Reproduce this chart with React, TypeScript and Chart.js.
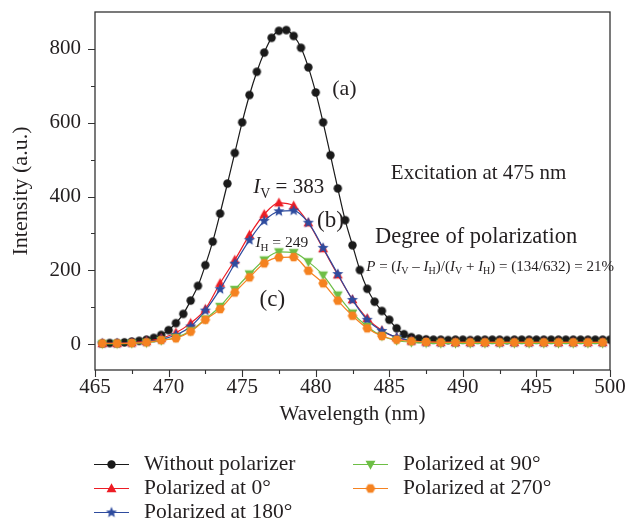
import React, { useEffect, useRef } from 'react';
import { Chart, registerables } from 'chart.js';
Chart.register(...registerables);

// ---------- data ----------
const wavelengthFine = [
  465.5, 466, 466.5, 467, 467.5, 468, 468.5, 469, 469.5, 470,
  470.5, 471, 471.5, 472, 472.5, 473, 473.5, 474, 474.5, 475,
  475.5, 476, 476.5, 477, 477.5, 478, 478.5, 479, 479.5, 480,
  480.5, 481, 481.5, 482, 482.5, 483, 483.5, 484, 484.5, 485,
  485.5, 486, 486.5, 487, 487.5, 488, 488.5, 489, 489.5, 490,
  490.5, 491, 491.5, 492, 492.5, 493, 493.5, 494, 494.5, 495,
  495.5, 496, 496.5, 497, 497.5, 498, 498.5, 499, 499.5, 500,
];
const withoutPolarizer = [
  2, 3, 3, 5, 7, 9, 12, 17, 25, 38,
  57, 82, 118, 158, 214, 278, 354, 435, 518, 601,
  675, 738, 790, 830, 849, 851, 835, 803, 750, 682,
  601, 512, 422, 336, 268, 201, 150, 115, 90, 66,
  43, 27, 19, 15, 13, 12, 12, 11, 12, 12,
  11, 12, 12, 12, 12, 11, 12, 12, 12, 12,
  12, 12, 12, 12, 12, 12, 12, 12, 12, 12,
];
const wavelengthCoarse = [
  465.5, 466.5, 467.5, 468.5, 469.5, 470.5, 471.5, 472.5, 473.5, 474.5,
  475.5, 476.5, 477.5, 478.5, 479.5, 480.5, 481.5, 482.5, 483.5, 484.5,
  485.5, 486.5, 487.5, 488.5, 489.5, 490.5, 491.5, 492.5, 493.5, 494.5,
  495.5, 496.5, 497.5, 498.5, 499.5,
];
const polarized0 = [
  2, 2, 4, 8, 16, 31, 57, 95, 165, 228,
  296, 352, 383, 375, 329, 259, 188, 121, 70, 37,
  18, 9, 6, 5, 5, 5, 5, 5, 5, 5,
  5, 5, 5, 5, 5,
];
const polarized180 = [
  2, 2, 3, 6, 13, 25, 48, 91, 149, 218,
  282, 334, 360, 362, 329, 261, 190, 120, 66, 36,
  19, 9, 5, 4, 4, 4, 4, 4, 4, 4,
  4, 4, 4, 4, 4,
];
const polarized90 = [
  1, 1, 2, 4, 10, 18, 36, 68, 102, 148,
  190, 228, 250, 248, 223, 187, 133, 84, 48, 22,
  10, 5, 3, 2, 2, 2, 2, 2, 2, 2,
  2, 2, 2, 2, 2,
];
const polarized270 = [
  2, 2, 3, 5, 11, 16, 34, 66, 95, 140,
  181, 219, 235, 236, 199, 165, 118, 77, 43, 22,
  12, 8, 6, 5, 5, 5, 5, 5, 5, 5,
  5, 5, 5, 5, 5,
];
const seriesLabels = [
  'Without polarizer',
  'Polarized at 0°',
  'Polarized at 180°',
  'Polarized at 90°',
  'Polarized at 270°',
];
const xTicks = [465, 470, 475, 480, 485, 490, 495, 500];
const xMinorTicks = [467.5, 472.5, 477.5, 482.5, 487.5, 492.5, 497.5];
const yTicks = [0, 200, 400, 600, 800];
const yMinorTicks = [100, 300, 500, 700];

// ---------- styling ----------
const FONT = '"Liberation Serif", "Times New Roman", serif';
const INK = '#231f20';
const COLORS = ['#1a1a1a', '#ed1c24', '#2e4b9e', '#6dbe45', '#f58220'];

type Shape = 'circle' | 'triUp' | 'star' | 'triDown' | 'hex';
function makeMarker(shape: Shape, color: string, r: number): HTMLCanvasElement {
  const size = Math.ceil(2 * r + 2);
  const c = document.createElement('canvas');
  c.width = size;
  c.height = size;
  const ctx = c.getContext('2d')!;
  const cx = size / 2;
  const cy = size / 2;
  ctx.fillStyle = color;
  ctx.beginPath();
  if (shape === 'circle') {
    ctx.arc(cx, cy, r, 0, Math.PI * 2);
  } else if (shape === 'triUp' || shape === 'triDown') {
    const s = shape === 'triUp' ? 1 : -1;
    ctx.moveTo(cx, cy - s * r);
    ctx.lineTo(cx + r * 0.95, cy + s * r * 0.7);
    ctx.lineTo(cx - r * 0.95, cy + s * r * 0.7);
    ctx.closePath();
  } else if (shape === 'star') {
    for (let i = 0; i < 10; i++) {
      const rr = i % 2 === 0 ? r : r * 0.45;
      const a = -Math.PI / 2 + (i * Math.PI) / 5;
      const px = cx + rr * Math.cos(a);
      const py = cy + rr * Math.sin(a);
      if (i === 0) ctx.moveTo(px, py);
      else ctx.lineTo(px, py);
    }
    ctx.closePath();
  } else {
    for (let i = 0; i < 6; i++) {
      const a = (i * Math.PI) / 3;
      const px = cx + r * Math.cos(a);
      const py = cy + r * Math.sin(a);
      if (i === 0) ctx.moveTo(px, py);
      else ctx.lineTo(px, py);
    }
    ctx.closePath();
  }
  ctx.fill();
  return c;
}

type Seg = { t: string; italic?: boolean; sub?: boolean };
function drawRich(
  ctx: CanvasRenderingContext2D,
  segs: Seg[],
  x: number,
  cy: number,
  size: number,
  align: 'left' | 'center'
) {
  const fontOf = (s: Seg) =>
    `${s.italic ? 'italic ' : ''}${s.sub ? Math.round(size * 0.68) : size}px ${FONT}`;
  let total = 0;
  const widths = segs.map((s) => {
    ctx.font = fontOf(s);
    const w = ctx.measureText(s.t).width;
    total += w;
    return w;
  });
  let cx = align === 'center' ? x - total / 2 : x;
  const base = cy + size * 0.33;
  ctx.textAlign = 'left';
  ctx.textBaseline = 'alphabetic';
  ctx.fillStyle = INK;
  segs.forEach((s, i) => {
    ctx.font = fontOf(s);
    ctx.fillText(s.t, cx, s.sub ? base + size * 0.22 : base);
    cx += widths[i];
  });
}

// annotation anchors in data coordinates
const annotations: { x: number; y: number; size: number; align: 'left' | 'center'; segs: Seg[] }[] = [
  { x: 481.95, y: 695, size: 22, align: 'center', segs: [{ t: '(a)' }] },
  { x: 491.07, y: 466, size: 21, align: 'center', segs: [{ t: 'Excitation at 475 nm' }] },
  {
    x: 475.75, y: 428, size: 21, align: 'left',
    segs: [{ t: 'I', italic: true }, { t: 'V', sub: true }, { t: ' = 383' }],
  },
  { x: 481.0, y: 337, size: 23, align: 'center', segs: [{ t: '(b)' }] },
  { x: 490.9, y: 293, size: 22.5, align: 'center', segs: [{ t: 'Degree of polarization' }] },
  {
    x: 491.85, y: 212, size: 15, align: 'center',
    segs: [
      { t: 'P', italic: true }, { t: ' = (' }, { t: 'I', italic: true }, { t: 'V', sub: true },
      { t: ' – ' }, { t: 'I', italic: true }, { t: 'H', sub: true }, { t: ')/(' },
      { t: 'I', italic: true }, { t: 'V', sub: true }, { t: ' + ' }, { t: 'I', italic: true },
      { t: 'H', sub: true }, { t: ') = (134/632) = 21%' },
    ],
  },
  {
    x: 475.9, y: 276, size: 15.5, align: 'left',
    segs: [{ t: 'I', italic: true }, { t: 'H', sub: true }, { t: ' = 249' }],
  },
  { x: 477.05, y: 125, size: 23, align: 'center', segs: [{ t: '(c)' }] },
];

export default function App() {
  const ref = useRef<HTMLCanvasElement>(null);

  useEffect(() => {
    const markers = [
      makeMarker('circle', COLORS[0], 4.2),
      makeMarker('triUp', COLORS[1], 5.2),
      makeMarker('star', COLORS[2], 5.8),
      makeMarker('triDown', COLORS[3], 5.2),
      makeMarker('hex', COLORS[4], 4.8),
    ];
    const xsList = [wavelengthFine, wavelengthCoarse, wavelengthCoarse, wavelengthCoarse, wavelengthCoarse];
    const ysList = [withoutPolarizer, polarized0, polarized180, polarized90, polarized270];
    const orders = [4, 3, 2, 1, 0];

    const datasets = ysList.map((ys, i) => ({
      label: seriesLabels[i],
      data: ys.map((v, j) => ({ x: xsList[i][j], y: v })),
      borderColor: COLORS[i],
      backgroundColor: COLORS[i],
      borderWidth: 1.2,
      pointStyle: markers[i] as any,
      pointRadius: 4,
      cubicInterpolationMode: 'monotone' as const,
      order: orders[i],
    }));

    const framePlugin = {
      id: 'frameAndAnnotations',
      afterDraw(chart: any) {
        const ctx: CanvasRenderingContext2D = chart.ctx;
        const { left, right, top, bottom } = chart.chartArea;
        const xs = chart.scales.x;
        const ys = chart.scales.y;
        ctx.save();
        ctx.strokeStyle = '#333';
        ctx.lineWidth = 1.3;
        ctx.strokeRect(left, top, right - left, bottom - top);
        ctx.lineWidth = 1.1;
        ctx.beginPath();
        xTicks.forEach((v) => {
          const px = Math.round(xs.getPixelForValue(v)) + 0.5;
          ctx.moveTo(px, bottom);
          ctx.lineTo(px, bottom + 7);
        });
        xMinorTicks.forEach((v) => {
          const px = Math.round(xs.getPixelForValue(v)) + 0.5;
          ctx.moveTo(px, bottom);
          ctx.lineTo(px, bottom + 4);
        });
        yTicks.forEach((v) => {
          const py = Math.round(ys.getPixelForValue(v)) + 0.5;
          ctx.moveTo(left, py);
          ctx.lineTo(left - 7, py);
        });
        yMinorTicks.forEach((v) => {
          const py = Math.round(ys.getPixelForValue(v)) + 0.5;
          ctx.moveTo(left, py);
          ctx.lineTo(left - 4, py);
        });
        ctx.stroke();

        // annotations
        annotations.forEach((a) => {
          drawRich(ctx, a.segs, xs.getPixelForValue(a.x), ys.getPixelForValue(a.y), a.size, a.align);
        });

        // legend (two columns)
        const slots = [
          { lx: 94, ty: 464 },
          { lx: 94, ty: 488 },
          { lx: 94, ty: 512 },
          { lx: 353, ty: 464 },
          { lx: 353, ty: 488 },
        ];
        slots.forEach((s, i) => {
          ctx.strokeStyle = COLORS[i];
          ctx.lineWidth = 1.2;
          ctx.beginPath();
          ctx.moveTo(s.lx, s.ty + 0.5);
          ctx.lineTo(s.lx + 35, s.ty + 0.5);
          ctx.stroke();
          const m = markers[i];
          ctx.drawImage(m, s.lx + 17.5 - m.width / 2, s.ty + 0.5 - m.height / 2);
          ctx.fillStyle = INK;
          ctx.font = `21.5px ${FONT}`;
          ctx.textAlign = 'left';
          ctx.textBaseline = 'middle';
          ctx.fillText(seriesLabels[i], s.lx + 50, s.ty);
        });
        ctx.restore();
      },
    };

    const chart = new Chart(ref.current!, {
      type: 'line',
      data: { datasets },
      options: {
        responsive: false,
        animation: false,
        devicePixelRatio: 1,
        layout: { padding: { left: 0, right: 16, top: 12, bottom: 91 } },
        plugins: { legend: { display: false }, tooltip: { enabled: false } },
        scales: {
          x: {
            type: 'linear',
            min: 465,
            max: 500,
            afterBuildTicks: (s: any) => {
              s.ticks = xTicks.map((v) => ({ value: v }));
            },
            afterFit: (s: any) => {
              s.height = 60;
              s.paddingLeft = 0;
              s.paddingRight = 0;
            },
            grid: { display: false, drawTicks: false },
            border: { display: false },
            ticks: {
              autoSkip: false,
              maxRotation: 0,
              padding: 5,
              color: INK,
              font: { family: FONT, size: 21 },
            },
            title: {
              display: true,
              text: 'Wavelength (nm)',
              color: INK,
              font: { family: FONT, size: 21 },
              padding: { top: 0, bottom: 3 },
            },
          },
          y: {
            type: 'linear',
            min: -70,
            max: 900,
            afterBuildTicks: (s: any) => {
              s.ticks = yTicks.map((v) => ({ value: v }));
            },
            afterFit: (s: any) => {
              s.width = 95;
              s.paddingTop = 0;
              s.paddingBottom = 0;
            },
            grid: { display: false, drawTicks: false },
            border: { display: false },
            ticks: {
              padding: 14,
              color: INK,
              font: { family: FONT, size: 21 },
            },
            title: {
              display: true,
              text: 'Intensity (a.u.)',
              color: INK,
              font: { family: FONT, size: 22 },
              padding: { top: 8, bottom: 0 },
            },
          },
        },
      },
      plugins: [framePlugin],
    });
    return () => chart.destroy();
  }, []);

  return (
    <div style={{ position: 'fixed', left: 0, top: 0, width: 626, height: 521, background: '#fff' }}>
      <canvas ref={ref} width={626} height={521} style={{ display: 'block', width: 626, height: 521 }} />
    </div>
  );
}
